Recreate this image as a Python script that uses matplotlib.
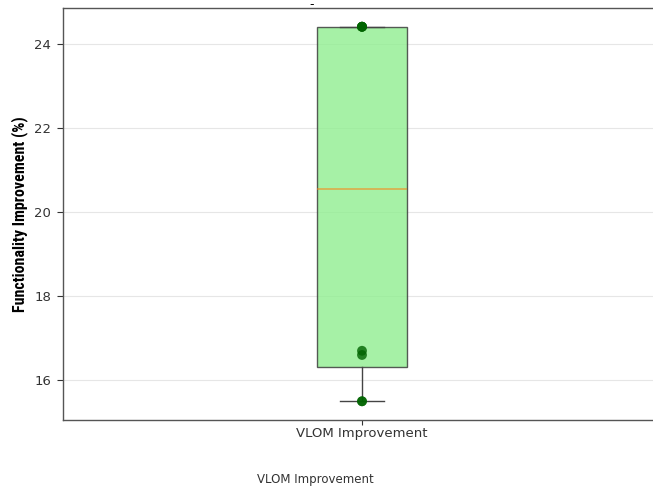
import matplotlib
matplotlib.use("Agg")
import matplotlib.pyplot as plt
import numpy as np
import logging
logging.getLogger('matplotlib.font_manager').setLevel(logging.ERROR)

category = "VLOM Improvement"
values = [15.5, 15.5, 16.6, 16.7, 24.4, 24.4, 24.4, 24.4]
title_text = "-"
ylabel_text = "Functionality Improvement (%)"
xlabel_text = "VLOM Improvement"

plt.rcParams['font.family'] = ['DejaVu Sans']

fig = plt.figure(figsize=(6.53, 4.86), dpi=100)
ax = fig.add_axes([63/653, 66/486, 598/653, 412/486])

bp = ax.boxplot([values], positions=[1], widths=0.15, patch_artist=True,
                showfliers=False)
for b in bp['boxes']:
    b.set_facecolor('#90ee90')
    b.set_alpha(0.8)
    b.set_edgecolor('#333333')
    b.set_linewidth(1.0)
for w in bp['whiskers'] + bp['caps']:
    w.set_color('#444444')
    w.set_linewidth(1.0)
for m in bp['medians']:
    m.set_color('#ff7f0e')
    m.set_alpha(0.6)
    m.set_linewidth(1.2)

ax.scatter(np.ones(len(values)), values, s=50, color='#006400', alpha=0.8, zorder=3,
           edgecolors='none')

ax.set_xlim(0.5, 1.5)
ax.set_xticks([1])
ax.set_xticklabels([category], fontsize=9.5, color='#333333')
ax.set_yticks([16, 18, 20, 22, 24])
ax.tick_params(axis='y', labelsize=9.5, labelcolor='#333333', color='#333333',
               length=4.5, pad=4)
ax.tick_params(axis='x', color='#333333', length=3.5, pad=1.5)
ax.yaxis.grid(True, color='#e6e6e6', linewidth=0.8)
ax.set_axisbelow(True)
for s in ax.spines.values():
    s.set_color('#555555')
    s.set_linewidth(1.0)

ax.set_ylabel(ylabel_text, fontsize=11.5, fontweight='bold',
              family=['Roboto Condensed', 'Barlow Semi Condensed', 'DejaVu Sans'])
ax.yaxis.set_label_coords((19.5 - 63) / 598, 0.5)
ax.yaxis.label.set_va('center')
fig.text(312/653, 1 - 5/486, title_text, ha='center', va='center', fontsize=9)
fig.text(315/653, 1 - 479/486, xlabel_text, ha='center', va='center', fontsize=8.5,
         color='#333333')

fig.savefig("out.png", dpi=100)
